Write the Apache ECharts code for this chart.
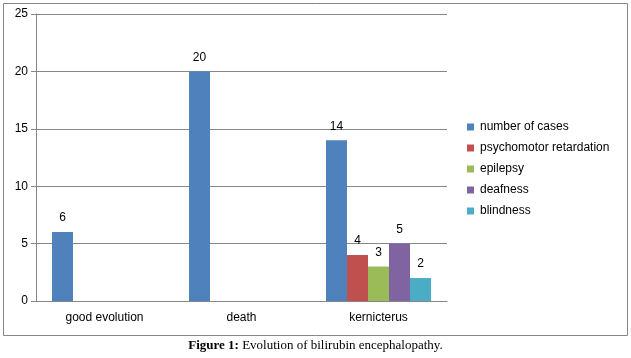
<!DOCTYPE html>
<html><head><meta charset="utf-8">
<script src="https://cdn.jsdelivr.net/npm/echarts@6/dist/echarts.min.js"></script>
<style>html,body{margin:0;padding:0;background:#fff}#c{width:631px;height:358px}</style>
</head><body><div id="c"></div>
<script>
const categories = ['good evolution', 'death', 'kernicterus'];
const seriesNames = ['number of cases', 'psychomotor retardation', 'epilepsy', 'deafness', 'blindness'];
const numberOfCases = [6, 20, 14];
const psychomotor = [null, null, 4];
const epilepsy = [null, null, 3];
const deafness = [null, null, 5];
const blindness = [null, null, 2];
const yTicks = [0, 5, 10, 15, 20, 25];
const colors = ['#4F81BD', '#C0504D', '#9BBB59', '#8064A2', '#4BACC6'];
const allData = [numberOfCases, psychomotor, epilepsy, deafness, blindness];

const font = 'Liberation Sans, Arial, sans-serif';
const chart = echarts.init(document.getElementById('c'));
chart.setOption({
  animation: false,
  color: colors,
  grid: { left: 36, top: 14, right: 184, bottom: 57 },
  legend: {
    orient: 'vertical', left: 467, top: 121, padding: 0, itemWidth: 7, itemHeight: 7, itemGap: 9,
    icon: 'rect',
    textStyle: { fontFamily: font, fontSize: 12, lineHeight: 12, color: '#000', padding: [0, 0, 0, 1] },
    data: seriesNames
  },
  xAxis: {
    type: 'category', data: categories,
    axisLine: { lineStyle: { color: '#868686' } },
    axisTick: { length: 5, lineStyle: { color: '#868686' } },
    axisLabel: { fontFamily: font, fontSize: 12, color: '#000', margin: 11 }
  },
  yAxis: {
    type: 'value', min: yTicks[0], max: yTicks[yTicks.length - 1], interval: 5,
    axisLine: { show: true, lineStyle: { color: '#868686' } },
    axisTick: { show: true, length: 5, lineStyle: { color: '#868686' } },
    splitLine: { lineStyle: { color: '#868686' } },
    axisLabel: { fontFamily: font, fontSize: 12, color: '#000', margin: 8 }
  },
  series: seriesNames.map((n, i) => ({
    name: n, type: 'bar', data: allData[i], barWidth: 21, barGap: '0%',
    label: { show: true, position: 'top', distance: 8, fontFamily: font, fontSize: 12, color: '#000' }
  })),
  graphic: [
    { type: 'rect', shape: { x: 3.5, y: 3.5, width: 624, height: 332 }, style: { fill: null, stroke: '#868686', lineWidth: 1 }, z: -1 },
    { type: 'text', left: 'center', top: 339, style: {
      text: '{b|Figure 1:} Evolution of bilirubin encephalopathy.',
      rich: { b: { fontFamily: 'Liberation Serif, Times New Roman, serif', fontWeight: 'bold', fontSize: 13, fill: '#000' } },
      fontFamily: 'Liberation Serif, Times New Roman, serif', fontSize: 13, fill: '#000' } }
  ]
});
</script></body></html>
